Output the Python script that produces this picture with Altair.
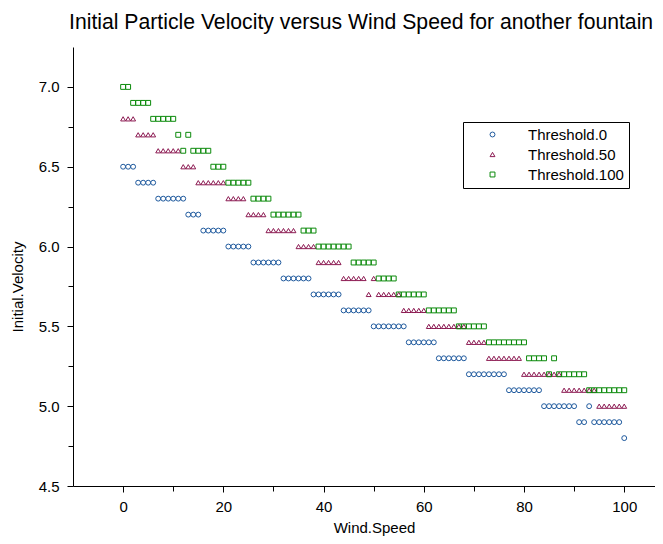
import altair as alt
import pandas as pd

wind = list(range(0, 101))
series_names = ["Threshold.0", "Threshold.50", "Threshold.100"]
series_colors = ["#1F5A9E", "#8C1A52", "#0B8A0B"]
series_shapes = ["circle", "triangle-up", "square"]

vel_t0 = [
    6.5, 6.5, 6.5, 6.4, 6.4, 6.4, 6.4, 6.3, 6.3, 6.3,
    6.3, 6.3, 6.3, 6.2, 6.2, 6.2, 6.1, 6.1, 6.1, 6.1,
    6.1, 6.0, 6.0, 6.0, 6.0, 6.0, 5.9, 5.9, 5.9, 5.9,
    5.9, 5.9, 5.8, 5.8, 5.8, 5.8, 5.8, 5.8, 5.7, 5.7,
    5.7, 5.7, 5.7, 5.7, 5.6, 5.6, 5.6, 5.6, 5.6, 5.6,
    5.5, 5.5, 5.5, 5.5, 5.5, 5.5, 5.5, 5.4, 5.4, 5.4,
    5.4, 5.4, 5.4, 5.3, 5.3, 5.3, 5.3, 5.3, 5.3, 5.2,
    5.2, 5.2, 5.2, 5.2, 5.2, 5.2, 5.2, 5.1, 5.1, 5.1,
    5.1, 5.1, 5.1, 5.1, 5.0, 5.0, 5.0, 5.0, 5.0, 5.0,
    5.0, 4.9, 4.9, 5.0, 4.9, 4.9, 4.9, 4.9, 4.9, 4.9,
    4.8,
]
vel_t50 = [
    6.8, 6.8, 6.8, 6.7, 6.7, 6.7, 6.7, 6.6, 6.6, 6.6,
    6.6, 6.6, 6.5, 6.5, 6.5, 6.4, 6.4, 6.4, 6.4, 6.4,
    6.4, 6.3, 6.3, 6.3, 6.3, 6.2, 6.2, 6.2, 6.2, 6.1,
    6.1, 6.1, 6.1, 6.1, 6.1, 6.0, 6.0, 6.0, 6.0, 5.9,
    5.9, 5.9, 5.9, 5.9, 5.8, 5.8, 5.8, 5.8, 5.8, 5.7,
    5.8, 5.7, 5.7, 5.7, 5.7, 5.7, 5.6, 5.6, 5.6, 5.6,
    5.6, 5.5, 5.5, 5.5, 5.5, 5.5, 5.5, 5.5, 5.5, 5.4,
    5.4, 5.4, 5.4, 5.3, 5.3, 5.3, 5.3, 5.3, 5.3, 5.3,
    5.2, 5.2, 5.2, 5.2, 5.2, 5.2, 5.2, 5.2, 5.1, 5.1,
    5.1, 5.1, 5.1, 5.1, 5.1, 5.0, 5.0, 5.0, 5.0, 5.0,
    5.0,
]
vel_t100 = [
    7.0, 7.0, 6.9, 6.9, 6.9, 6.9, 6.8, 6.8, 6.8, 6.8,
    6.8, 6.7, 6.6, 6.7, 6.6, 6.6, 6.6, 6.6, 6.5, 6.5,
    6.5, 6.4, 6.4, 6.4, 6.4, 6.4, 6.3, 6.3, 6.3, 6.3,
    6.2, 6.2, 6.2, 6.2, 6.2, 6.2, 6.1, 6.1, 6.1, 6.0,
    6.0, 6.0, 6.0, 6.0, 6.0, 6.0, 5.9, 5.9, 5.9, 5.9,
    5.9, 5.8, 5.8, 5.8, 5.8, 5.7, 5.7, 5.7, 5.7, 5.7,
    5.7, 5.6, 5.6, 5.6, 5.6, 5.6, 5.6, 5.5, 5.5, 5.5,
    5.5, 5.5, 5.5, 5.4, 5.4, 5.4, 5.4, 5.4, 5.4, 5.4,
    5.4, 5.3, 5.3, 5.3, 5.3, 5.2, 5.3, 5.2, 5.2, 5.2,
    5.2, 5.2, 5.2, 5.1, 5.1, 5.1, 5.1, 5.1, 5.1, 5.1,
    5.1,
]

x_ticks = [0, 10, 20, 30, 40, 50, 60, 70, 80, 90, 100]
y_ticks = [4.5, 4.75, 5.0, 5.25, 5.5, 5.75, 6.0, 6.25, 6.5, 6.75, 7.0]

rows = []
for name, vals in zip(series_names, [vel_t0, vel_t50, vel_t100]):
    for w, v in zip(wind, vals):
        rows.append({"wind": w, "velocity": v, "series": name})
df = pd.DataFrame(rows)

FONT = "Liberation Sans"

chart = (
    alt.Chart(df)
    .mark_point(filled=False, size=24, strokeWidth=1, opacity=1)
    .encode(
        x=alt.X(
            "wind:Q",
            scale=alt.Scale(domain=[-10, 106.14], nice=False, zero=False),
            axis=alt.Axis(
                values=x_ticks,
                labelExpr="datum.value % 20 == 0 ? datum.label : ''",
                tickSize={"condition": {"test": "datum.value % 20 == 0", "value": 6}, "value": 5},
                labelPadding=7,
                titleX=301,
                titleY=46,
                titleAlign="center",
                titleBaseline="alphabetic",
                title="Wind.Speed",
            ),
        ),
        y=alt.Y(
            "velocity:Q",
            scale=alt.Scale(domain=[4.5, 7.25], nice=False, zero=False),
            axis=alt.Axis(
                values=y_ticks,
                format=".1f",
                labelExpr="(datum.value * 4) % 2 == 0 ? datum.label : ''",
                tickSize={"condition": {"test": "(datum.value * 4) % 2 == 0", "value": 6}, "value": 5},
                labelPadding=8,
                titleX=-56,
                titleY=239.5,
                titleAlign="center",
                titleBaseline="middle",
                title="Initial.Velocity",
            ),
        ),
        color=alt.Color(
            "series:N",
            scale=alt.Scale(domain=series_names, range=series_colors),
            legend=alt.Legend(
                title=None,
                orient="none",
                legendX=390,
                legendY=75,
                strokeColor="black",
                fillColor="white",
                padding=5,
                symbolOffset=17,
                labelOffset=28,
                rowPadding=4,
                symbolSize=24,
                symbolStrokeWidth=1,
                labelFontSize=15,
                labelFont=FONT,
                labelColor="black",
                labelExpr="datum.label + '\u00a0\u00a0\u00a0\u00a0\u00a0\u00a0'",
            ),
        ),
        shape=alt.Shape(
            "series:N",
            scale=alt.Scale(domain=series_names, range=series_shapes),
        ),
    )
    .properties(
        width=582,
        height=439,
        background="white",
        autosize=alt.AutoSizeParams(type="none"),
        padding={"left": 65, "top": 39, "right": 0, "bottom": 50},
        title=alt.Title(
            "Initial Particle Velocity versus Wind Speed for another fountain",
            fontSize=21.2,
            font=FONT,
            fontWeight="normal",
            color="black",
            anchor="start",
            frame="group",
            offset=14,
            dx=-4,
        ),
    )
    .configure_view(stroke=None)
    .configure_axis(
        grid=False,
        domainColor="black",
        domainWidth=1,
        tickColor="black",
        tickWidth=1,
        labelFont=FONT,
        labelFontSize=15,
        labelColor="black",
        titleFont=FONT,
        titleFontSize=15,
        titleFontWeight="normal",
        titleColor="black",
        labelFlush=False,
    )
)

chart.save("out.html", embed_options={"renderer": "svg", "actions": False})
